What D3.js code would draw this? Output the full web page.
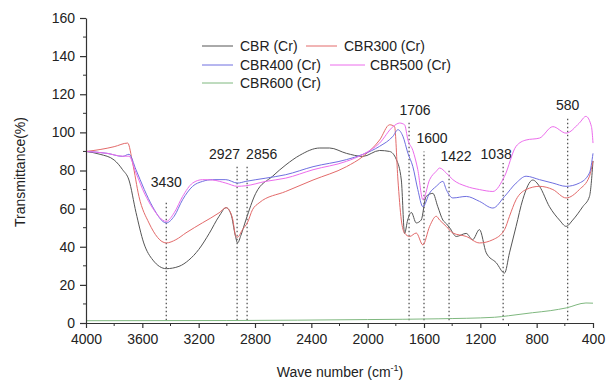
<!DOCTYPE html>
<html>
<head>
<meta charset="utf-8">
<script src="https://cdn.jsdelivr.net/npm/d3@7"></script>
<style>
  body { margin: 0; background: #fff; }
  text { font-family: "Liberation Sans", Arial, sans-serif; fill: #222; }
</style>
</head>
<body>
<div id="chart"></div>
<script>
// FTIR spectra (wave number cm-1, transmittance %)
var cbrWave = [4000, 3900, 3800, 3740, 3695, 3645, 3590, 3525, 3430, 3340, 3270, 3200, 3125, 3055, 3005, 2970, 2940, 2924, 2900, 2865, 2795, 2675, 2580, 2482, 2340, 2270, 2151, 2035, 1915, 1844, 1796, 1761, 1738, 1716, 1690, 1655, 1620, 1585, 1537, 1502, 1466, 1440, 1418, 1371, 1300, 1255, 1206, 1158, 1087, 1028, 993, 946, 899, 828, 780, 709, 638, 591, 544, 473, 425, 400];
var cbrVal = [90, 88.5, 85.5, 80.4, 75, 58, 42, 33, 28.5, 29.7, 33, 38.5, 47, 56, 60.5, 57, 46, 42, 46, 54, 68, 77, 83, 88, 91.8, 91.8, 89, 87.4, 90.5, 90, 85.7, 75, 47, 54, 58, 52.5, 54, 66.4, 68, 61, 54, 52, 50, 45.4, 47, 43.7, 49, 36.8, 31.6, 26.2, 36.8, 50.7, 64.7, 75, 71.7, 61, 54, 50.7, 54, 61, 66.4, 85];

var cbr300Wave = [4000, 3900, 3800, 3704, 3669, 3624, 3553, 3430, 3362, 3290, 3172, 3055, 3005, 2960, 2936, 2924, 2889, 2854, 2818, 2771, 2582, 2388, 2151, 2033, 1915, 1844, 1809, 1785, 1761, 1738, 1702, 1655, 1608, 1560, 1513, 1489, 1442, 1395, 1300, 1206, 1111, 1028, 993, 946, 875, 780, 685, 591, 497, 425, 400];
var cbr300Val = [90, 91, 92.5, 94.4, 84, 66.4, 52.5, 42, 43.7, 47.3, 52.6, 57.8, 60.5, 55, 45.4, 45, 49, 52.6, 59.4, 63, 69, 75, 82, 87.4, 96, 104, 103, 75, 54, 47.2, 45.4, 47.2, 41, 50.7, 56, 54, 50.7, 47.2, 45.4, 42, 43.7, 49, 56, 64.7, 70, 71.7, 70, 65.6, 70, 77, 85];

var cbr400Wave = [4000, 3850, 3740, 3695, 3645, 3586, 3527, 3430, 3374, 3314, 3243, 3172, 3101, 3007, 2924, 2865, 2723, 2582, 2388, 2151, 2033, 1915, 1820, 1785, 1750, 1714, 1679, 1644, 1608, 1560, 1513, 1466, 1442, 1395, 1300, 1206, 1111, 1028, 946, 875, 780, 685, 591, 497, 425, 400];
var cbr400Val = [90, 89, 87.4, 88.5, 80.4, 70, 61, 52.5, 56, 64.7, 71.7, 74.3, 75.2, 75.2, 73.4, 74.3, 76, 77.8, 82, 85.7, 88.5, 92.7, 98, 101.4, 98, 89, 82, 70, 61, 68.2, 71.7, 74.3, 70, 65.6, 66.4, 63.8, 60.3, 66.4, 73.4, 77, 75.2, 73.4, 71.7, 73.4, 78.7, 89];

var cbr500Wave = [4000, 3850, 3740, 3695, 3645, 3586, 3527, 3430, 3374, 3314, 3243, 3172, 3101, 3007, 2924, 2865, 2723, 2582, 2388, 2151, 2033, 1915, 1820, 1773, 1738, 1714, 1679, 1644, 1608, 1560, 1513, 1489, 1442, 1395, 1300, 1206, 1111, 1028, 946, 875, 780, 685, 591, 497, 450, 411, 400];
var cbr500Val = [90, 89, 87.5, 87.5, 78.7, 68.2, 60.3, 53.3, 57.8, 66.4, 73.4, 75.2, 75, 73.4, 71.7, 72, 74.3, 76, 80.4, 84.8, 88.5, 94.4, 103, 104.9, 104, 96, 90.5, 80.4, 64.7, 75.2, 79.6, 81.3, 78.7, 75.2, 71.7, 70, 69, 77, 92.7, 96, 97, 103, 99.6, 104.9, 108.4, 103, 94.4];

var cbr600Wave = [4000, 3000, 2000, 1500, 1100, 1000, 829, 700, 591, 450, 400];
var cbr600Val = [1.2, 1.3, 1.8, 2.2, 3, 3.8, 5.4, 6.5, 7.9, 10.5, 10.4];

var seriesNames = ["CBR (Cr)", "CBR300 (Cr)", "CBR400 (Cr)", "CBR500 (Cr)", "CBR600 (Cr)"];
var seriesColors = ["#555555", "#e36a6a", "#6f6fe0", "#ec6cec", "#7fb87f"];

// marked bands: wave number, top of dotted line, label height (%)
var peakWave = [3430, 2927, 2856, 1706, 1600, 1422, 1038, 580];
var peakTop = [64, 82, 82, 105, 90, 81, 84, 108];
var peakLabelY = [71.5, 86, 86, 109, 94.5, 85, 86, 112];

var xTicks = [4000, 3600, 3200, 2800, 2400, 2000, 1600, 1200, 800, 400];
var yTicks = [0, 20, 40, 60, 80, 100, 120, 140, 160];

var svgWidth = 607;
var svgHeight = 381;
var margin = { top: 18, right: 14, bottom: 58, left: 86 };
var width = svgWidth - margin.left - margin.right;
var height = svgHeight - margin.top - margin.bottom;

var svg = d3.select("#chart")
  .append("svg")
  .attr("width", svgWidth)
  .attr("height", svgHeight);

var chartGroup = svg.append("g")
  .attr("transform", `translate(${margin.left}, ${margin.top})`);

var x = d3.scaleLinear().domain([4000, 400]).range([0, width]);
var y = d3.scaleLinear().domain([0, 160]).range([height, 0]);

var series = [
  [cbrWave, cbrVal],
  [cbr300Wave, cbr300Val],
  [cbr400Wave, cbr400Val],
  [cbr500Wave, cbr500Val],
  [cbr600Wave, cbr600Val]
].map((s, i) => ({
  name: seriesNames[i],
  color: seriesColors[i],
  points: s[0].map((w, j) => ({ w: w, v: s[1][j] }))
}));

// dotted band markers
var peaks = peakWave.map((w, i) => ({ w: w, top: peakTop[i], ly: peakLabelY[i] }));

chartGroup.selectAll(".peak")
  .data(peaks)
  .enter()
  .append("line")
  .attr("class", "peak")
  .attr("x1", d => x(d.w))
  .attr("x2", d => x(d.w))
  .attr("y1", y(1.5))
  .attr("y2", d => y(d.top))
  .attr("stroke", "#555")
  .attr("stroke-width", 1.3)
  .attr("stroke-dasharray", "1.3,2.7");

// label shifts in px, as set in the original
var labelDx = { 3430: 0, 2927: 3, 2856: -1, 1706: 6, 1600: 8, 1422: 7, 1038: -7, 580: 0 };
var labelAnchor = { 2927: "end", 2856: "start" };

chartGroup.selectAll(".peakLabel")
  .data(peaks)
  .enter()
  .append("text")
  .attr("class", "peakLabel")
  .attr("x", d => x(d.w) + labelDx[d.w])
  .attr("y", d => y(d.ly))
  .attr("text-anchor", d => labelAnchor[d.w] || "middle")
  .style("font-size", "14px")
  .text(d => d.w);

var line = d3.line()
  .x(d => x(d.w))
  .y(d => y(d.v))
  .curve(d3.curveMonotoneX);

chartGroup.selectAll(".spectrum")
  .data(series)
  .enter()
  .append("path")
  .attr("class", "spectrum")
  .attr("d", d => line(d.points))
  .attr("fill", "none")
  .attr("stroke", d => d.color)
  .attr("stroke-width", 1)
  .attr("stroke-linejoin", "round");

// axes
var bottomAxis = d3.axisBottom(x).tickValues(xTicks).tickFormat(d3.format("d")).tickSize(5).tickSizeOuter(0).tickPadding(6);
var leftAxis = d3.axisLeft(y).tickValues(yTicks).tickSize(6).tickSizeOuter(0).tickPadding(5);

var minorX = d3.range(3800, 400, -400);
var minorY = d3.range(10, 160, 20);

chartGroup.selectAll(".minorX")
  .data(minorX)
  .enter()
  .append("line")
  .attr("x1", d => x(d)).attr("x2", d => x(d))
  .attr("y1", height).attr("y2", height + 3)
  .attr("stroke", "#333");

chartGroup.selectAll(".minorY")
  .data(minorY)
  .enter()
  .append("line")
  .attr("x1", 0).attr("x2", -3)
  .attr("y1", d => y(d)).attr("y2", d => y(d))
  .attr("stroke", "#333");

var gx = chartGroup.append("g")
  .attr("transform", `translate(0, ${height})`)
  .call(bottomAxis);

var gy = chartGroup.append("g")
  .call(leftAxis);

[gx, gy].forEach(g => {
  g.selectAll("path").attr("stroke", "#333").attr("stroke-width", 1.2);
  g.selectAll("line").attr("stroke", "#333").attr("stroke-width", 1.2);
  g.selectAll("text").style("font-size", "14px").style("font-family", "Liberation Sans, Arial, sans-serif").attr("fill", "#222");
});

// legend
var legendPos = [[116, 28], [220, 28], [116, 47], [244, 47], [116, 65]];

var legend = chartGroup.selectAll(".legend")
  .data(series)
  .enter()
  .append("g")
  .attr("class", "legend")
  .attr("transform", (d, i) => `translate(${legendPos[i][0]}, ${legendPos[i][1]})`);

legend.append("line")
  .attr("x1", 0).attr("x2", d => d.name === "CBR500 (Cr)" ? 35 : 31)
  .attr("y1", 0).attr("y2", 0)
  .attr("stroke", d => d.color)
  .attr("stroke-width", 1);

legend.append("text")
  .attr("x", d => d.name === "CBR500 (Cr)" ? 40 : 38)
  .attr("y", 5)
  .style("font-size", "14px")
  .text(d => d.name);

// axis titles
svg.append("text")
  .attr("transform", "rotate(-90)")
  .attr("x", -172)
  .attr("y", 25)
  .attr("text-anchor", "middle")
  .style("font-size", "14px")
  .text("Transmittance(%)");

var xTitle = svg.append("text")
  .attr("x", 340)
  .attr("y", 377)
  .attr("text-anchor", "middle")
  .style("font-size", "14px");
xTitle.append("tspan").text("Wave number (cm");
xTitle.append("tspan").attr("dy", -6).style("font-size", "9px").text("-1");
xTitle.append("tspan").attr("dy", 6).text(")");
</script>
</body>
</html>
